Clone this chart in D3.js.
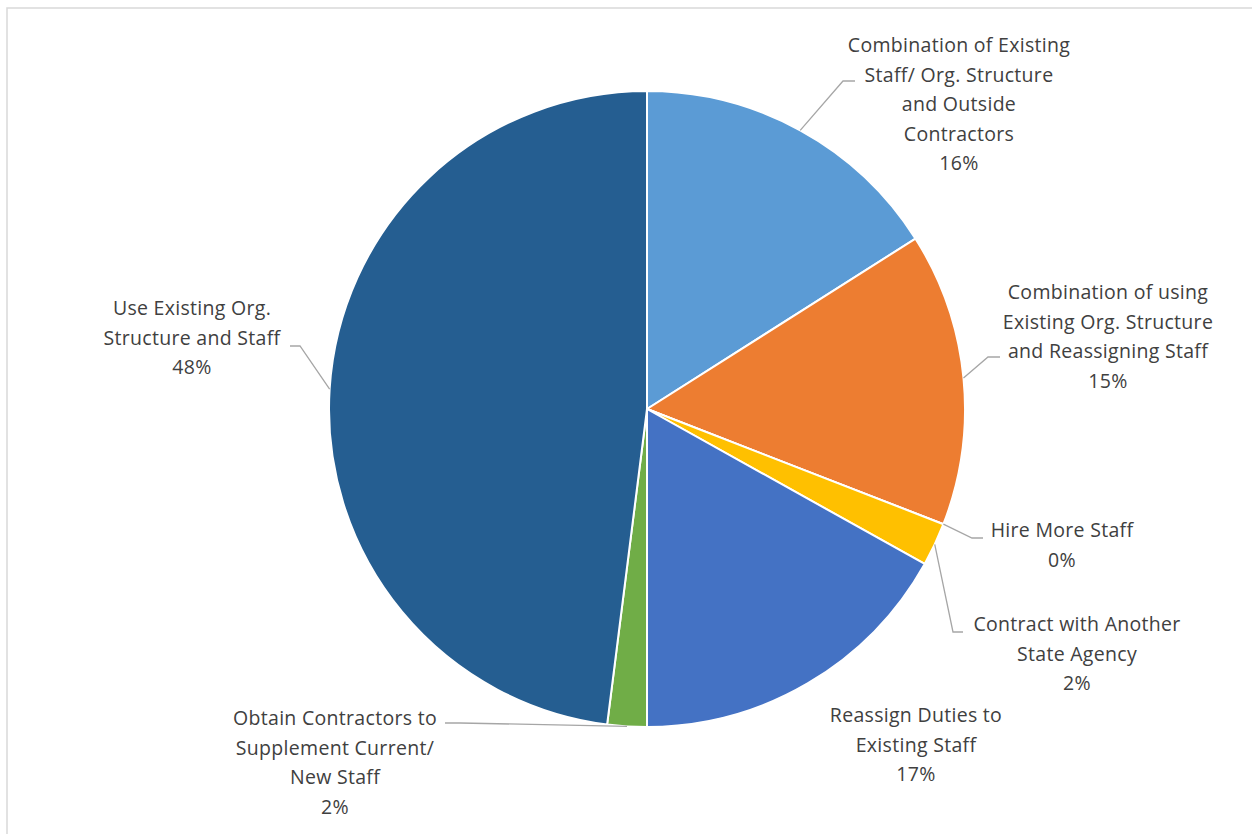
<!DOCTYPE html>
<html>
<head>
<meta charset="utf-8">
<script src="https://cdn.jsdelivr.net/npm/d3@7"></script>
<style>
  body { margin: 0; background: #fff; }
  text { font-family: "Open Sans", Lato, sans-serif; fill: #404040; }
</style>
</head>
<body>
<div id="chart"></div>
<script>
// data, clockwise from 12 o'clock
let categories = [
  "Combination of Existing Staff/ Org. Structure and Outside Contractors",
  "Combination of using Existing Org. Structure and Reassigning Staff",
  "Hire More Staff",
  "Contract with Another State Agency",
  "Reassign Duties to Existing Staff",
  "Obtain Contractors to Supplement Current/ New Staff",
  "Use Existing Org. Structure and Staff"
];
let values = [16, 14.9, 0, 2.2, 16.9, 2, 48];
let colors = ["#5B9BD5", "#ED7D31", "#A5A5A5", "#FFC000", "#4472C4", "#70AD47", "#255E91"];
// how each label wraps, as in the original
let labelLines = [
  ["Combination of Existing", "Staff/ Org. Structure", "and Outside", "Contractors"],
  ["Combination of using", "Existing Org. Structure", "and Reassigning Staff"],
  ["Hire More Staff"],
  ["Contract with Another", "State Agency"],
  ["Reassign Duties to", "Existing Staff"],
  ["Obtain Contractors to", "Supplement Current/", "New Staff"],
  ["Use Existing Org.", "Structure and Staff"]
];

let width = 1252, height = 834;
let cx = 647, cy = 409, r = 318;
let lineH = 29.5;

// label layout: centre x, first baseline, leader elbow + end (null = no leader)
let labelPos = [
  {x: 959, y: 52, elbow: [843, 81], end: [855, 81]},
  {x: 1108, y: 299, elbow: [988, 357], end: [1000, 357]},
  {x: 1062, y: 537, elbow: [972, 538], end: [983, 538]},
  {x: 1077, y: 631, elbow: [953, 632], end: [963, 632]},
  {x: 916, y: 722, elbow: null, end: null},
  {x: 335, y: 725, elbow: [460, 723], end: [445, 723]},
  {x: 192, y: 315, elbow: [300, 346], end: [290, 346]}
];

let svg = d3.select('#chart').append('svg')
  .attr('width', width)
  .attr('height', height);

svg.append('rect')
  .attr('x', 7).attr('y', 8)
  .attr('width', width + 10).attr('height', height + 10)
  .attr('fill', 'none')
  .attr('stroke', '#D9D9D9')
  .attr('stroke-width', 1.5);

let pie = d3.pie().sort(null).value(d => d)(values);
let arc = d3.arc().innerRadius(0).outerRadius(r);
let total = d3.sum(values);

let g = svg.append('g').attr('transform', 'translate(' + cx + ',' + cy + ')');

g.selectAll('path.slice')
  .data(pie)
  .join('path')
  .attr('class', 'slice')
  .attr('d', arc)
  .attr('fill', (d, i) => colors[i])
  .attr('stroke', '#fff')
  .attr('stroke-width', 2)
  .attr('stroke-linejoin', 'round');

// leader lines from the slice's mid angle on the rim
pie.forEach((d, i) => {
  let p = labelPos[i];
  if (!p.elbow) return;
  let a = (d.startAngle + d.endAngle) / 2;
  let sx = cx + r * Math.sin(a), sy = cy - r * Math.cos(a);
  let line = d3.line();
  svg.append('path')
    .attr('d', line([[sx, sy], p.elbow, p.end]))
    .attr('fill', 'none')
    .attr('stroke', '#A6A6A6')
    .attr('stroke-width', 1.3);
});

// labels
pie.forEach((d, i) => {
  let p = labelPos[i];
  let lines = labelLines[i].concat([Math.round(values[i] / total * 100) + '%']);
  let t = svg.append('text')
    .attr('text-anchor', 'middle')
    .attr('font-size', '19.5px')
    .attr('letter-spacing', '0.3px');
  lines.forEach((s, j) => {
    t.append('tspan').attr('x', p.x).attr('y', p.y + j * lineH).text(s);
  });
});
</script>
</body>
</html>
